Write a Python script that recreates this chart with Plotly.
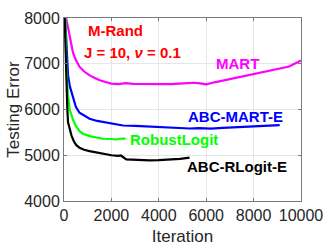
import plotly.graph_objects as go

# Data
mart_x = [90, 170, 240, 310, 380, 500, 660, 850, 1085, 1300, 1507, 1750, 2000, 2300, 2600, 2915, 3300, 3700, 4040, 4500, 5030, 5450, 5750, 6000, 6400, 6860, 7400, 7990, 8500, 8970, 9500, 10000]
mart_y = [8000, 7800, 7600, 7420, 7240, 7080, 6930, 6830, 6745, 6690, 6640, 6600, 6565, 6555, 6575, 6560, 6555, 6550, 6545, 6555, 6570, 6585, 6570, 6550, 6600, 6650, 6720, 6780, 6830, 6880, 6940, 7070]

abc_mart_x = [50, 100, 170, 250, 380, 500, 655, 850, 1078, 1400, 1783, 2100, 2488, 3000, 3500, 3900, 4500, 5300, 5700, 6200, 6700, 7200, 7700, 8300, 8800, 9100]
abc_mart_y = [8000, 7300, 6745, 6500, 6250, 6060, 5928, 5860, 5797, 5750, 5710, 5680, 5650, 5640, 5630, 5622, 5610, 5585, 5595, 5580, 5600, 5615, 5625, 5635, 5650, 5660]

robust_x = [60, 100, 170, 240, 373, 500, 655, 800, 1078, 1300, 1642, 2000, 2200, 2347, 2600]
robust_y = [8000, 6900, 6300, 6000, 5782, 5640, 5527, 5470, 5418, 5390, 5361, 5355, 5345, 5361, 5365]

rlogit_x = [30, 70, 100, 140, 170, 240, 320, 420, 520, 655, 850, 1078, 1300, 1501, 1750, 2000, 2280, 2400, 2630, 2900, 3200, 3600, 4000, 4500, 4900, 5300]
rlogit_y = [8000, 7000, 6440, 6000, 5720, 5560, 5425, 5300, 5220, 5165, 5120, 5090, 5065, 5050, 5020, 5000, 4985, 4995, 4910, 4900, 4890, 4890, 4895, 4905, 4920, 4950]

x_ticks = [0, 2000, 4000, 6000, 8000, 10000]
y_ticks = [4000, 5000, 6000, 7000, 8000]

series = [
    (mart_x, mart_y, "#ff00ff", "MART"),
    (abc_mart_x, abc_mart_y, "#0000ff", "ABC-MART-E"),
    (robust_x, robust_y, "#00ff00", "RobustLogit"),
    (rlogit_x, rlogit_y, "#000000", "ABC-RLogit-E"),
]

fig = go.Figure()
for xs, ys, col, name in series:
    fig.add_trace(go.Scatter(x=xs, y=ys, mode="lines", name=name,
                             line=dict(color=col, width=2.2), showlegend=False))

font_bold = "Liberation Sans"
annos = [
    (2156, 7730, "<b>M-Rand</b>", "#ff0000"),
    (2896, 7250, "<b>J = 10, <i>ν</i> = 0.1</b>", "#ff0000"),
    (7336, 7003, "<b>MART</b>", "#ff00ff"),
    (7252, 5854, "<b>ABC-MART-E</b>", "#0000ff"),
    (4630, 5346, "<b>RobustLogit</b>", "#00ff00"),
    (7294, 4763, "<b>ABC-RLogit-E</b>", "#000000"),
]
for ax, ay, txt, col in annos:
    fig.add_annotation(x=ax, y=ay, text=txt, showarrow=False,
                       font=dict(family=font_bold, size=15, color=col),
                       xanchor="center", yanchor="middle")

axis_common = dict(showline=True, linecolor="#7a7a7a", linewidth=1, mirror="ticks",
                   ticks="inside", ticklen=3, tickcolor="#7a7a7a", automargin=False,
                   showgrid=True, gridcolor="#e6e6e6", gridwidth=1, zeroline=False,
                   tickfont=dict(family="Liberation Sans", size=16, color="#262626"))

fig.update_layout(
    width=332, height=249,
    margin=dict(l=64, r=31, t=18, b=48),
    paper_bgcolor="white", plot_bgcolor="white",
    xaxis=dict(range=[0, 10000], tickvals=x_ticks, ticktext=[str(v) for v in x_ticks],
               title=dict(text="Iteration", standoff=6,
                          font=dict(family="Liberation Sans", size=17, color="#262626")),
               **axis_common),
    yaxis=dict(range=[4000, 8000], tickvals=y_ticks, ticktext=[str(v) for v in y_ticks],
               title=dict(text="Testing Error", standoff=0,
                          font=dict(family="Liberation Sans", size=17, color="#262626")),
               **axis_common),
)

fig.write_html("out.html", config={"displayModeBar": False},
               post_script="document.body.style.margin='0px';document.body.style.overflow='hidden';")
